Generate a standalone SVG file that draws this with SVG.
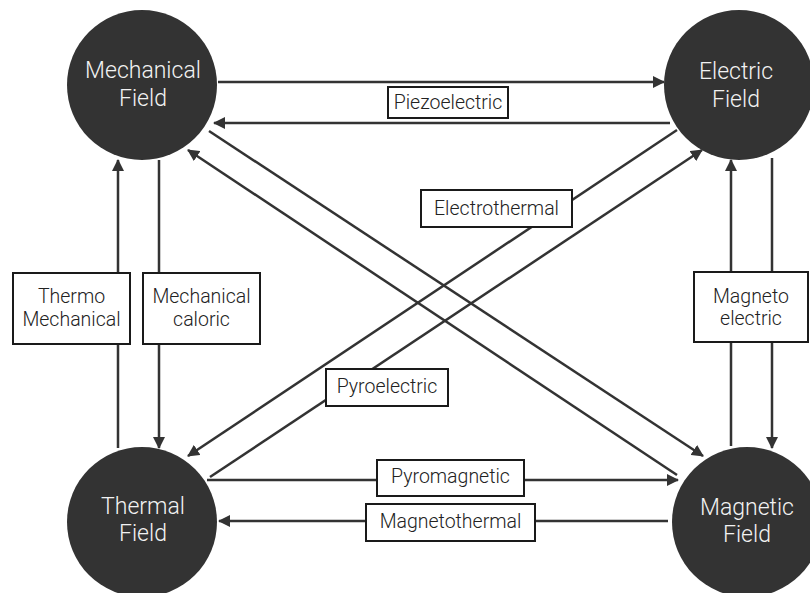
<svg xmlns="http://www.w3.org/2000/svg" width="810" height="593" viewBox="0 0 810 593">
<defs>
<marker id="ah" viewBox="0 0 12 12" refX="11" refY="6" markerWidth="12" markerHeight="12" markerUnits="userSpaceOnUse" orient="auto">
<path d="M0,0 L12,6 L0,12 Z" fill="#333"/>
</marker>
<style>
.c{fill:#333}
.ct{font-family:Roboto,"Liberation Sans",sans-serif;font-weight:300;font-size:23px;fill:#f2f2f2;text-anchor:middle}
.l{stroke:#333;stroke-width:2.5;fill:none}
.a{marker-end:url(#ah)}
.b{fill:#fff;stroke:#1a1a1a;stroke-width:2}
.bt{font-family:Roboto,"Liberation Sans",sans-serif;font-weight:300;font-size:19.5px;fill:#222;text-anchor:middle}
</style>
</defs>
<rect width="810" height="593" fill="#fff"/>
<g id="connectors">
<line class="l a" x1="218" y1="82" x2="664" y2="82"/>
<line class="l a" x1="670" y1="123" x2="214" y2="123"/>
<line class="l a" x1="159" y1="160" x2="159" y2="448"/>
<line class="l a" x1="118" y1="448" x2="118" y2="160"/>
<line class="l a" x1="772" y1="158" x2="772" y2="448"/>
<line class="l a" x1="731" y1="446" x2="731" y2="160"/>
<line class="l a" x1="207" y1="480" x2="678" y2="480"/>
<line class="l a" x1="668" y1="521" x2="219" y2="521"/>
<line class="l a" x1="209" y1="131" x2="703" y2="456"/>
<line class="l a" x1="677" y1="475" x2="188" y2="150"/>
<line class="l a" x1="677" y1="130" x2="188" y2="456"/>
<line class="l a" x1="210" y1="477" x2="702" y2="150"/>
</g>
<g id="mechanical"><circle class="c" cx="142" cy="85" r="75"/><text class="ct" x="143" y="78">Mechanical</text><text class="ct" x="143" y="106">Field</text></g>
<g id="electric"><circle class="c" cx="739" cy="85" r="75"/><text class="ct" x="736" y="79">Electric</text><text class="ct" x="736" y="107">Field</text></g>
<g id="thermal"><circle class="c" cx="142" cy="522" r="75"/><text class="ct" x="143" y="514">Thermal</text><text class="ct" x="143" y="541">Field</text></g>
<g id="magnetic"><circle class="c" cx="747" cy="522" r="75"/><text class="ct" x="747" y="515">Magnetic</text><text class="ct" x="747" y="542">Field</text></g>
<g id="lbl-piezo"><rect class="b" x="388" y="87" width="120" height="31"/><text class="bt" x="448" y="109">Piezoelectric</text></g>
<g id="lbl-electrothermal"><rect class="b" x="421" y="190" width="151" height="37"/><text class="bt" x="496.5" y="215">Electrothermal</text></g>
<g id="lbl-pyroelectric"><rect class="b" x="326" y="369" width="122" height="37"/><text class="bt" x="387" y="393">Pyroelectric</text></g>
<g id="lbl-pyromagnetic"><rect class="b" x="377" y="460" width="147" height="36"/><text class="bt" x="450.5" y="483">Pyromagnetic</text></g>
<g id="lbl-magnetothermal"><rect class="b" x="366" y="504" width="169" height="37"/><text class="bt" x="450.5" y="528">Magnetothermal</text></g>
<g id="lbl-thermomech"><rect class="b" x="13" y="273" width="117" height="71"/><text class="bt" x="71.5" y="303">Thermo</text><text class="bt" x="71.5" y="326">Mechanical</text></g>
<g id="lbl-mechcaloric"><rect class="b" x="143" y="273" width="117" height="71"/><text class="bt" x="201.5" y="303">Mechanical</text><text class="bt" x="201.5" y="326">caloric</text></g>
<g id="lbl-magnetoelectric"><rect class="b" x="694" y="272" width="114" height="70"/><text class="bt" x="751" y="303">Magneto</text><text class="bt" x="751" y="325">electric</text></g>
</svg>
